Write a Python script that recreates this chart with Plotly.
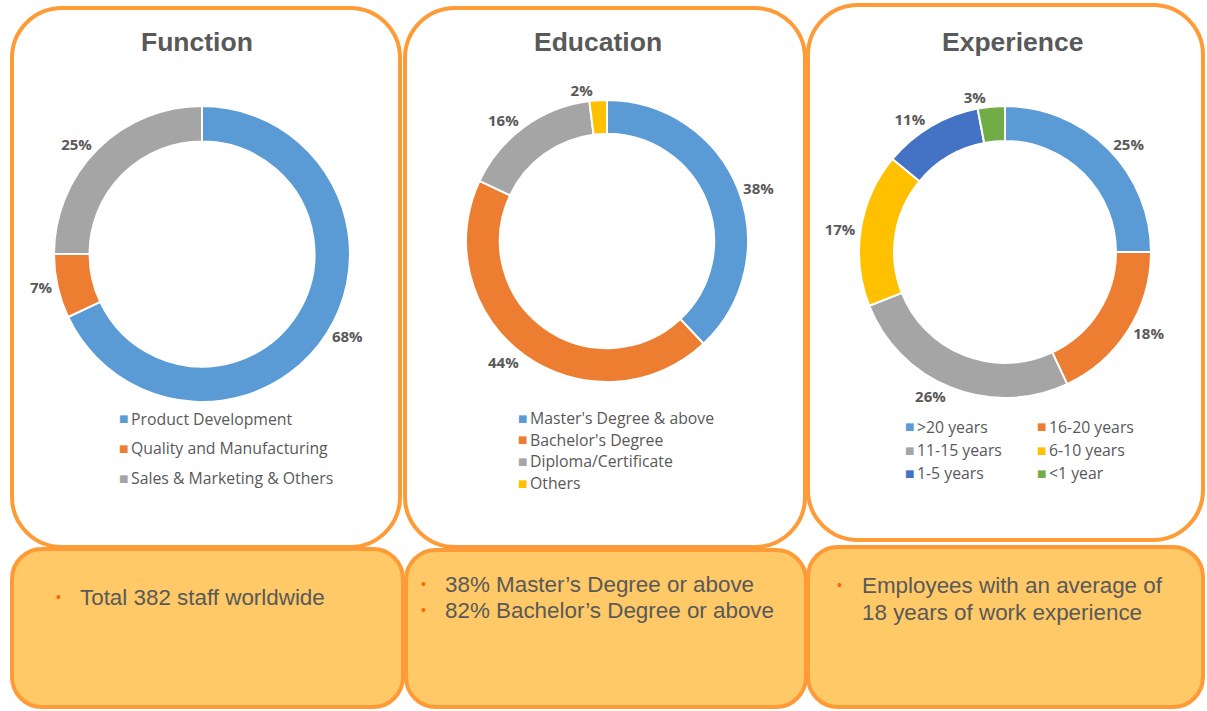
import plotly.graph_objects as go

W, H = 1207, 711

# ---------------- data ----------------
func_labels = ["Product Development", "Quality and Manufacturing", "Sales & Marketing & Others"]
func_values = [68, 7, 25]
func_colors = ["#5B9BD5", "#ED7D31", "#A5A5A5"]

edu_labels = ["Master's Degree & above", "Bachelor's Degree", "Diploma/Certificate", "Others"]
edu_values = [38, 44, 16, 2]
edu_colors = ["#5B9BD5", "#ED7D31", "#A5A5A5", "#FFC000"]

exp_labels = [">20 years", "16-20 years", "11-15 years", "6-10 years", "1-5 years", "<1 year"]
exp_values = [25, 18, 26, 17, 11, 3]
exp_colors = ["#5B9BD5", "#ED7D31", "#A5A5A5", "#FFC000", "#4472C4", "#70AD47"]

titles = ["Function", "Education", "Experience"]
notes = [
    ["Total 382 staff worldwide"],
    ["38% Master’s Degree or above", "82% Bachelor’s Degree or above"],
    ["Employees with an average of", "18 years of work experience"],
]

# ---------------- helpers ----------------
def px(x):
    return x / W

def py(y):
    return 1 - y / H

def dom(cx, cy, r):
    return dict(x=[px(cx - r), px(cx + r)], y=[py(cy + r), py(cy - r)])

def rrect(x0, y0, x1, y1, r):
    k = 0.5523 * r
    pts = [
        f"M{px(x0 + r)},{py(y0)}",
        f"L{px(x1 - r)},{py(y0)}",
        f"C{px(x1 - r + k)},{py(y0)} {px(x1)},{py(y0 + r - k)} {px(x1)},{py(y0 + r)}",
        f"L{px(x1)},{py(y1 - r)}",
        f"C{px(x1)},{py(y1 - r + k)} {px(x1 - r + k)},{py(y1)} {px(x1 - r)},{py(y1)}",
        f"L{px(x0 + r)},{py(y1)}",
        f"C{px(x0 + r - k)},{py(y1)} {px(x0)},{py(y1 - r + k)} {px(x0)},{py(y1 - r)}",
        f"L{px(x0)},{py(y0 + r)}",
        f"C{px(x0)},{py(y0 + r - k)} {px(x0 + r - k)},{py(y0)} {px(x0 + r)},{py(y0)}",
        "Z",
    ]
    return " ".join(pts)

BORDER = "#FF9B37"
GRAY = "#595959"
LEG_FONT = "Open Sans"

fig = go.Figure()

def add_pie(labels, values, colors, domain):
    fig.add_trace(go.Pie(
        labels=labels, values=values, sort=False, direction="clockwise", rotation=0,
        hole=0.76, domain=domain,
        marker=dict(colors=colors, line=dict(color="white", width=2)),
        text=[f"{v}%" for v in values], textinfo="text", textposition="outside",
        outsidetextfont=dict(family="Open Sans", size=15, color=GRAY, weight="bold"),
        showlegend=False, hoverinfo="label+percent",
    ))

add_pie(func_labels, func_values, func_colors, dom(202, 254, 148))
add_pie(edu_labels, edu_values, edu_colors, dom(607, 241, 141))
add_pie(exp_labels, exp_values, exp_colors, dom(1005, 252, 146))

shapes = []
# top boxes
for (x0, y0, x1, y1) in [(12, 8, 400, 547), (405, 8, 805, 547), (808, 5, 1203, 540)]:
    shapes.append(dict(type="path", path=rrect(x0, y0, x1, y1, 50), xref="paper", yref="paper",
                       fillcolor="white", line=dict(color=BORDER, width=4), layer="below"))
# bottom boxes
for (x0, y0, x1, y1) in [(12, 549, 403, 707), (406, 550, 806, 707), (808, 547, 1203, 707)]:
    shapes.append(dict(type="path", path=rrect(x0, y0, x1, y1, 30), xref="paper", yref="paper",
                       fillcolor="#FEC966", line=dict(color=BORDER, width=4), layer="below"))

annotations = []
# titles
for t, x in zip(titles, [197, 598, 1012]):
    annotations.append(dict(text=f"<b>{t}</b>", x=px(x), y=py(42), xref="paper", yref="paper",
                            showarrow=False, xanchor="center", yanchor="middle",
                            font=dict(family="Liberation Sans", size=26.5, color=GRAY)))

def legend_item(label, color, sx, tx, y, size):
    annotations.append(dict(text="■", x=px(sx), y=py(y), xref="paper", yref="paper",
                            showarrow=False, xanchor="center", yanchor="middle",
                            font=dict(family="DejaVu Sans", size=10, color=color)))
    annotations.append(dict(text=label, x=px(tx), y=py(y), xref="paper", yref="paper",
                            showarrow=False, xanchor="left", yanchor="middle",
                            font=dict(family=LEG_FONT, size=size, color=GRAY)))

for i, (lab, col) in enumerate(zip(func_labels, func_colors)):
    legend_item(lab, col, 123, 129, 419 + i * 29.5, 15.8)
for i, (lab, col) in enumerate(zip(edu_labels, edu_colors)):
    legend_item(lab, col, 522, 528, 418 + i * 21.7, 15.8)
for i, (lab, col) in enumerate(zip(exp_labels, exp_colors)):
    r, c = divmod(i, 2)
    sx = 909 if c == 0 else 1041
    legend_item(lab, col, sx, sx + 6, 427 + r * 23, 15.8)

# notes in bottom boxes
note_pos = [(58, 78, 597, 0), (423, 443, 584, 26), (839, 860, 585, 27)]
for k, (lines, (bx, tx, y0, dy)) in enumerate(zip(notes, note_pos)):
    for j, ln in enumerate(lines):
        yy = y0 + j * dy
        if k != 2 or j == 0:
            annotations.append(dict(text="•", x=px(bx), y=py(yy), xref="paper", yref="paper",
                                    showarrow=False, xanchor="center", yanchor="middle",
                                    font=dict(family="Liberation Sans", size=14, color="#FF6600")))
        annotations.append(dict(text=ln, x=px(tx), y=py(yy), xref="paper", yref="paper",
                                showarrow=False, xanchor="left", yanchor="middle",
                                font=dict(family="Liberation Sans", size=22.4, color=GRAY)))

fig.update_layout(
    width=W, height=H, margin=dict(l=0, r=0, t=0, b=0),
    paper_bgcolor="white", plot_bgcolor="white",
    shapes=shapes, annotations=annotations, showlegend=False,
)

fig.write_html("out.html", config={"displayModeBar": False},
               post_script="document.body.style.margin='0';document.body.style.overflow='hidden';")
